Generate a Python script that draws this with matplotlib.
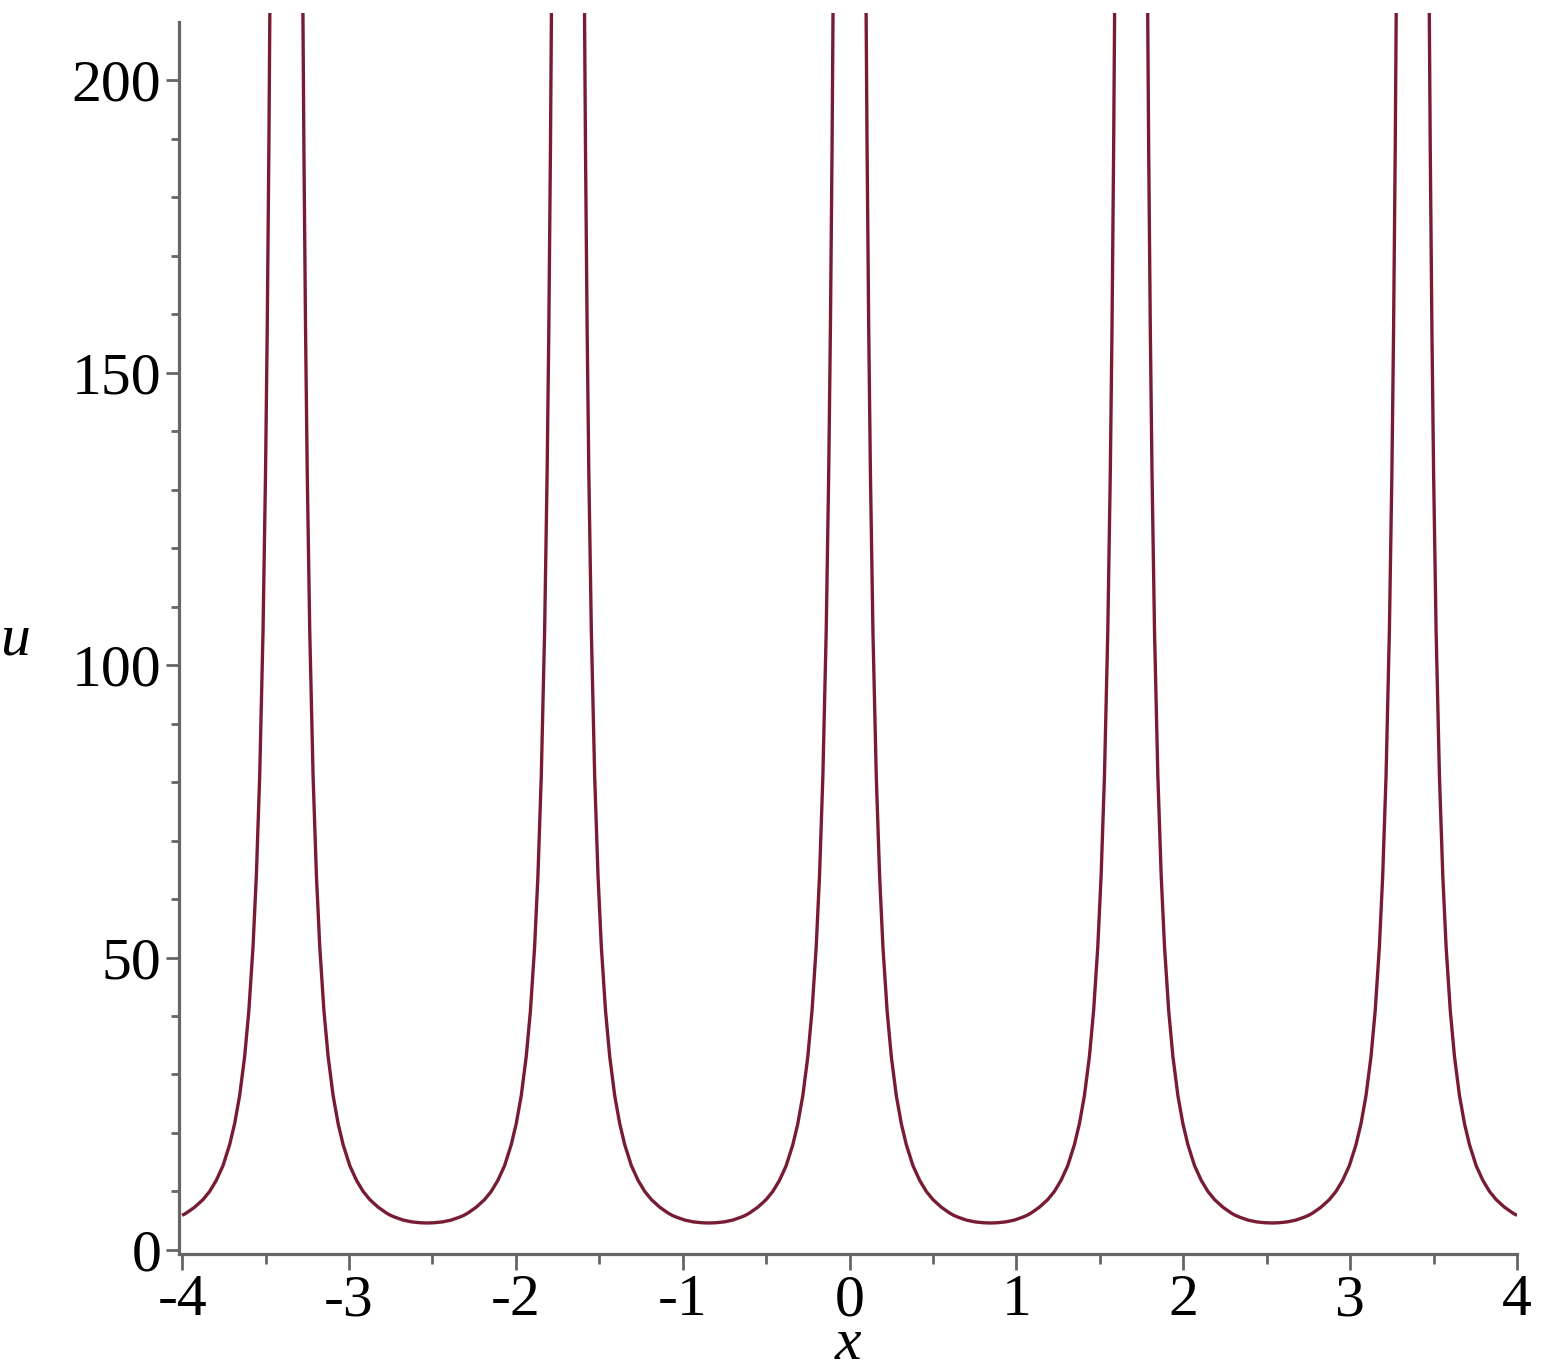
import matplotlib.pyplot as plt
import numpy as np
from matplotlib.ticker import FixedLocator

OUTPUT_FILE = "out.png"
FIGURE_SIZE = (15.45, 13.72)
DPI = 100
FONT = "Liberation Serif"
FONT_SIZE = 43
LINE_COLOR = "#781c34"
AXIS_COLOR = "#666666"

# pole positions of u(x)
POLES = [-3.375, -1.6875, 0.0, 1.6875, 3.375]
# one side of a branch: distance from the pole and the value of u there
OFFSETS = [0.098, 0.105, 0.115, 0.125, 0.14, 0.16, 0.18, 0.20, 0.225, 0.25,
           0.28, 0.31, 0.34, 0.38, 0.42, 0.46, 0.50, 0.55, 0.60, 0.625,
           0.65, 0.70, 0.75, 0.80, 0.84375]
U_VALUES = [216.1, 188.2, 156.9, 132.8, 105.8, 81.0, 64.0, 51.8, 40.9, 33.1,
            26.4, 21.6, 18.0, 14.4, 11.9, 10.0, 8.6, 7.3, 6.3, 5.9,
            5.6, 5.1, 4.8, 4.65, 4.6]

X_RANGE = (-4.0, 4.0)
X_TICKS = [-4, -3, -2, -1, 0, 1, 2, 3, 4]
X_MINOR_TICKS = [-3.5, -2.5, -1.5, -0.5, 0.5, 1.5, 2.5, 3.5]
Y_TICKS = [0, 50, 100, 150, 200]
Y_MINOR_TICKS = [v for v in range(10, 210, 10) if v % 50 != 0]
Y_AXIS_TOP = 210


def build_curve() -> tuple[np.ndarray, np.ndarray]:
    offsets = np.array(OFFSETS)
    values = np.array(U_VALUES)
    xs, us = [], []
    for pole in POLES:
        # left side of the pole (increasing x), a break, then the right side
        xs += [pole - offsets[::-1], [np.nan], pole + offsets, [np.nan]]
        us += [values[::-1], [np.nan], values, [np.nan]]
    x = np.concatenate(xs)
    u = np.concatenate(us)
    keep = np.isnan(x) | ((x >= X_RANGE[0] - 1e-9) & (x <= X_RANGE[1] + 1e-9))
    return x[keep], u[keep]


def draw_plot() -> None:
    plt.rcParams["font.family"] = [FONT, "DejaVu Serif"]
    plt.rcParams["axes.unicode_minus"] = False

    fig = plt.figure(figsize=FIGURE_SIZE, dpi=DPI)
    ax = fig.add_axes([0.1157, 0.0860, 0.8662, 0.9045])

    x, u = build_curve()
    ax.plot(x, u, color=LINE_COLOR, linewidth=2.4, solid_capstyle="butt", clip_on=True)

    ax.set_xlim(-4.02, 4.0)
    ax.set_ylim(-0.7, 211.5)

    for side in ("top", "right"):
        ax.spines[side].set_visible(False)
    for side in ("left", "bottom"):
        ax.spines[side].set_color(AXIS_COLOR)
        ax.spines[side].set_linewidth(2.3)
    ax.spines["left"].set_bounds(-0.7, Y_AXIS_TOP)

    ax.xaxis.set_major_locator(FixedLocator(X_TICKS))
    ax.xaxis.set_minor_locator(FixedLocator(X_MINOR_TICKS))
    ax.yaxis.set_major_locator(FixedLocator(Y_TICKS))
    ax.yaxis.set_minor_locator(FixedLocator(Y_MINOR_TICKS))
    ax.set_xticklabels([str(t) for t in X_TICKS])
    ax.set_yticklabels([str(t) for t in Y_TICKS])

    ax.tick_params(axis="both", which="both", direction="out", color=AXIS_COLOR,
                   width=2.0, labelsize=FONT_SIZE, labelcolor="black")
    ax.tick_params(axis="x", which="major", length=11.5, pad=3)
    ax.tick_params(axis="x", which="minor", length=7)
    ax.tick_params(axis="y", which="major", length=9.5, pad=3)
    ax.tick_params(axis="y", which="minor", length=6)

    fig.text(0.0097, 0.5226, "u", fontsize=FONT_SIZE, style="italic",
             ha="center", va="baseline")
    fig.text(0.549, 0.0095, "x", fontsize=FONT_SIZE, style="italic",
             ha="center", va="baseline")

    fig.savefig(OUTPUT_FILE, dpi=DPI, facecolor="white")


if __name__ == "__main__":
    draw_plot()
